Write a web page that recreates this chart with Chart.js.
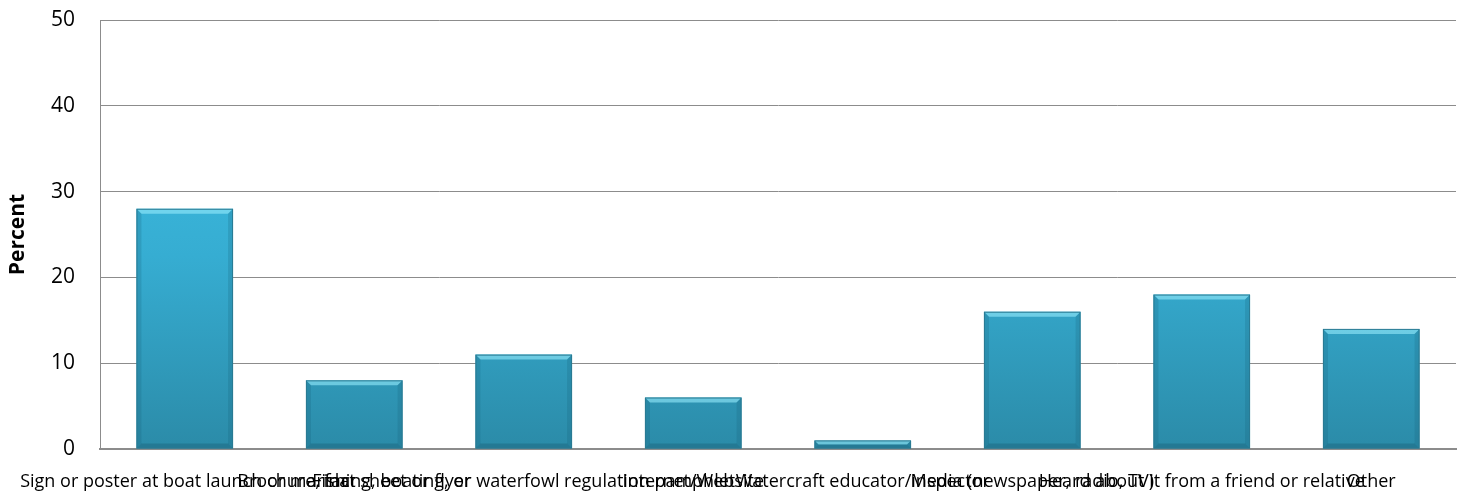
<!DOCTYPE html>
<html>
<head>
<meta charset="utf-8">
<script src="https://cdn.jsdelivr.net/npm/chart.js@4/dist/chart.umd.min.js"></script>
<style>
  html, body { margin: 0; padding: 0; background: #fff; }
  #wrap { width: 1457px; height: 499px; }
</style>
</head>
<body>
<div id="wrap"><canvas id="chart"></canvas></div>
<script>
const categories = [
  "Sign or poster at boat launch or marina",
  "Brochure, fact sheet or flyer",
  "Fishing, boating, or waterfowl regulation pamphlet",
  "Internet/Website",
  "Watercraft educator/inspector",
  "Media (newspaper, radio, TV)",
  "Heard about it from a friend or relative",
  "Other"
];
const percents = [28, 8, 11, 6, 1, 16, 18, 14];
const yTicks = [0, 10, 20, 30, 40, 50];

const fontFamily = "'Open Sans', 'Noto Sans', sans-serif";

function barFill(context) {
  const chart = context.chart;
  const area = chart.chartArea;
  if (!area) return "#36a9cc";
  const g = chart.ctx.createLinearGradient(0, area.top, 0, area.bottom);
  g.addColorStop(0, "#40c4e8");
  g.addColorStop(0.55, "#36add2");
  g.addColorStop(1, "#2b8ba8");
  return g;
}

// bevelled edges on each bar, positions taken from the bar elements
const bevel = {
  id: "bevel",
  afterDatasetsDraw(chart) {
    const ctx = chart.ctx;
    chart.getDatasetMeta(0).data.forEach(bar => {
      const { x, y, base, width } = bar.getProps(["x", "y", "base", "width"], true);
      const l = x - width / 2, r = x + width / 2;
      const e = Math.min(5, (base - y) / 2);
      ctx.save();
      ctx.fillStyle = "rgba(150,235,252,0.6)";
      ctx.beginPath();
      ctx.moveTo(l, y); ctx.lineTo(r, y); ctx.lineTo(r - e, y + e); ctx.lineTo(l + e, y + e);
      ctx.closePath(); ctx.fill();
      ctx.fillStyle = "rgba(20,90,115,0.2)";
      ctx.beginPath();
      ctx.moveTo(l, y); ctx.lineTo(l + e, y + e); ctx.lineTo(l + e, base - e); ctx.lineTo(l, base);
      ctx.closePath(); ctx.fill();
      ctx.beginPath();
      ctx.moveTo(r, y); ctx.lineTo(r - e, y + e); ctx.lineTo(r - e, base - e); ctx.lineTo(r, base);
      ctx.closePath(); ctx.fill();
      ctx.fillStyle = "rgba(20,80,100,0.3)";
      ctx.beginPath();
      ctx.moveTo(l, base); ctx.lineTo(l + e, base - e); ctx.lineTo(r - e, base - e); ctx.lineTo(r, base);
      ctx.closePath(); ctx.fill();
      ctx.strokeStyle = "#2a7a92";
      ctx.lineWidth = 1;
      ctx.strokeRect(l + 0.5, y + 0.5, width - 1, base - y - 1);
      ctx.restore();
    });
  }
};

new Chart(document.getElementById("chart"), {
  type: "bar",
  data: {
    labels: categories,
    datasets: [{
      label: "Percent",
      data: percents,
      backgroundColor: barFill,
      borderWidth: 0,
      categoryPercentage: 0.57,
      barPercentage: 1.0
    }]
  },
  plugins: [bevel],
  options: {
    responsive: true,
    maintainAspectRatio: false,
    animation: false,
    layout: { padding: { top: 20, right: 1, left: 0, bottom: 0 } },
    plugins: {
      legend: { display: false },
      tooltip: { enabled: false }
    },
    scales: {
      x: {
        grid: { display: false, drawTicks: false },
        border: { color: "#8c8c8c", width: 2 },
        afterFit: axis => { axis.height = 50; axis.paddingLeft = 0; axis.paddingRight = 0; },
        ticks: {
          autoSkip: false,
          maxRotation: 0,
          minRotation: 0,
          color: "#000",
          padding: 22,
          font: { family: fontFamily, size: 18 }
        }
      },
      y: {
        min: 0,
        max: 50,
        afterBuildTicks: axis => { axis.ticks = yTicks.map(v => ({ value: v })); },
        afterFit: axis => { axis.width = 100; axis.paddingTop = 0; axis.paddingBottom = 0; },
        grid: { color: "#8c8c8c", lineWidth: 1, drawTicks: false },
        border: { color: "#8c8c8c", width: 1 },
        ticks: {
          color: "#000",
          padding: 25,
          font: { family: fontFamily, size: 21 }
        },
        title: {
          display: true,
          text: "Percent",
          color: "#000",
          padding: { top: 5, bottom: 0 },
          font: { family: fontFamily, size: 21, weight: "bold" }
        }
      }
    }
  }
});
</script>
</body>
</html>
